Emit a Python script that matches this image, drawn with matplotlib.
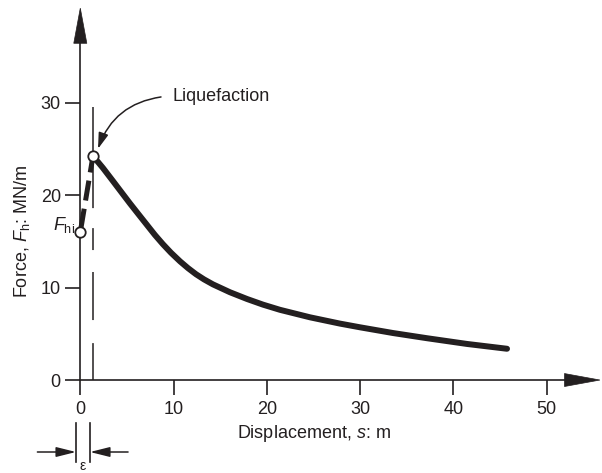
import matplotlib
matplotlib.use('Agg')
import matplotlib.pyplot as plt

plt.rcParams['font.family'] = ['Liberation Sans', 'DejaVu Sans']
plt.rcParams['mathtext.fontset'] = 'custom'
plt.rcParams['mathtext.rm'] = 'Liberation Sans'
plt.rcParams['mathtext.it'] = 'Liberation Sans:italic'
plt.rcParams['lines.scale_dashes'] = False

# ---------------- data ----------------
s_curve = [1.36, 2.43, 3.5, 4.47, 5.33, 6.3, 7.15, 8.0, 8.86, 9.72, 10.69,
           11.54, 12.4, 13.26, 14.22, 16.04, 17.87, 19.58, 21.4, 24.62, 27.83,
           29.98, 33.52, 37.16, 41.45, 45.74]
F_curve = [24.22, 22.92, 21.51, 20.22, 19.08, 17.84, 16.76, 15.68, 14.68, 13.76, 12.83,
           12.1, 11.44, 10.88, 10.34, 9.49, 8.76, 8.15, 7.59, 6.78, 6.1,
           5.7, 5.08, 4.52, 3.9, 3.38]
s_rise = [0.0, 1.36]
F_rise = [16.0, 24.22]
s_liq = 1.36
F_liq = 24.22
F_hi = 16.0
x_ticks = [0, 10, 20, 30, 40, 50]
y_ticks = [0, 10, 20, 30]
x_label = 'Displacement, $s$: m'
y_label = 'Force, $F_{\\mathrm{h}}$: MN/m'
ann_label = 'Liquefaction'
fhi_label = '$F_{\\mathrm{hi}}$'
eps_label = 'ε'

ink = '#231f20'

fig = plt.figure(figsize=(6.02, 4.73), dpi=100)
ax = fig.add_axes([0, 0, 1, 1])
ax.patch.set_visible(False)
ax.set_xlim(-8.607, 55.92)
ax.set_ylim(-10.05, 41.08)

for sp in ['top', 'right']:
    ax.spines[sp].set_visible(False)
ax.spines['left'].set_position(('data', 0))
ax.spines['bottom'].set_position(('data', 0))
ax.spines['left'].set_bounds(0, 37.5)
ax.spines['bottom'].set_bounds(0, 52.5)
for sp in ['left', 'bottom']:
    ax.spines[sp].set_linewidth(1.2)
    ax.spines[sp].set_color(ink)

ax.set_xticks(x_ticks)
ax.set_yticks(y_ticks)
ax.set_xticklabels([str(v) for v in x_ticks])
ax.set_yticklabels([str(v) for v in y_ticks])
ax.tick_params(axis='both', direction='out', length=11, width=1.2, color=ink,
               labelsize=13, labelcolor=ink)
ax.tick_params(axis='x', pad=4)
ax.tick_params(axis='y', pad=3)

# axis arrowheads
ax.arrow(0, 36.4, 0, 3.8, width=0.0, head_width=1.4, head_length=3.8,
         length_includes_head=True, fc=ink, ec=ink, lw=0.5, zorder=3)
ax.arrow(51.9, 0, 3.8, 0, width=0.0, head_width=1.4, head_length=3.8,
         length_includes_head=True, fc=ink, ec=ink, lw=0.5, zorder=3)

# axis labels
ax.set_xlabel(x_label, fontsize=13, color=ink, va='baseline', ha='center')
ax.xaxis.set_label_coords(25.08, -6.24, transform=ax.transData)
ax.set_ylabel(y_label, fontsize=13, color=ink, va='center', ha='center', rotation=90)
ax.yaxis.set_label_coords(-6.25, 16.05, transform=ax.transData)

# vertical dashed line at liquefaction
vl, = ax.plot([s_liq, s_liq], [29.5, 0], color=ink, lw=1.1, zorder=2)
vl.set_dashes((32.4, 9.4, 31, 14.4, 15.8, 15.8, 34.6, 16.6, 26.6, 20))
vl.set_dash_capstyle('butt')

# rising dashed segment
rl, = ax.plot(s_rise, F_rise, color=ink, lw=3.6, zorder=3)
rl.set_dashes((17, 6, 14.5, 6))
rl.set_dash_capstyle('butt')

# main curve
ax.plot(s_curve, F_curve, color=ink, lw=4.3, solid_joinstyle='round',
        solid_capstyle='round', zorder=3)

# circles
ax.plot([s_rise[0], s_liq], [F_hi, F_liq], linestyle='none', marker='o',
        markersize=7.5, mfc='white', mec=ink, mew=1.3, zorder=5)

# labels
ax.text(-0.57, 16.2, fhi_label, fontsize=13, color=ink, ha='right', va='baseline')
ax.text(9.83, 30.2, ann_label, fontsize=13, color=ink, ha='left', va='baseline')
ax.annotate('', xy=(1.9, 25.0), xytext=(8.65, 30.6),
            arrowprops=dict(arrowstyle='-|>,head_length=0.8,head_width=0.25',
                            mutation_scale=12, color=ink, lw=1.1,
                            connectionstyle='arc3,rad=0.3',
                            shrinkA=0, shrinkB=0), zorder=4)

# epsilon dimension
for xv in [-0.46, 1.04]:
    ax.plot([xv, xv], [-4.65, -8.86], color=ink, lw=1.2, clip_on=False)
ax.annotate('', xy=(-0.46, -7.78), xytext=(-4.6, -7.78),
            arrowprops=dict(arrowstyle='-|>,head_length=1.0,head_width=0.25',
                            mutation_scale=12, color=ink, lw=1.1,
                            shrinkA=0, shrinkB=0))
ax.annotate('', xy=(1.04, -7.78), xytext=(5.12, -7.78),
            arrowprops=dict(arrowstyle='-|>,head_length=1.0,head_width=0.25',
                            mutation_scale=12, color=ink, lw=1.1,
                            shrinkA=0, shrinkB=0))
ax.text(0.29, -9.24, eps_label, fontsize=10, color=ink, ha='center', va='center')

fig.savefig('out.png', dpi=100, facecolor='white')
